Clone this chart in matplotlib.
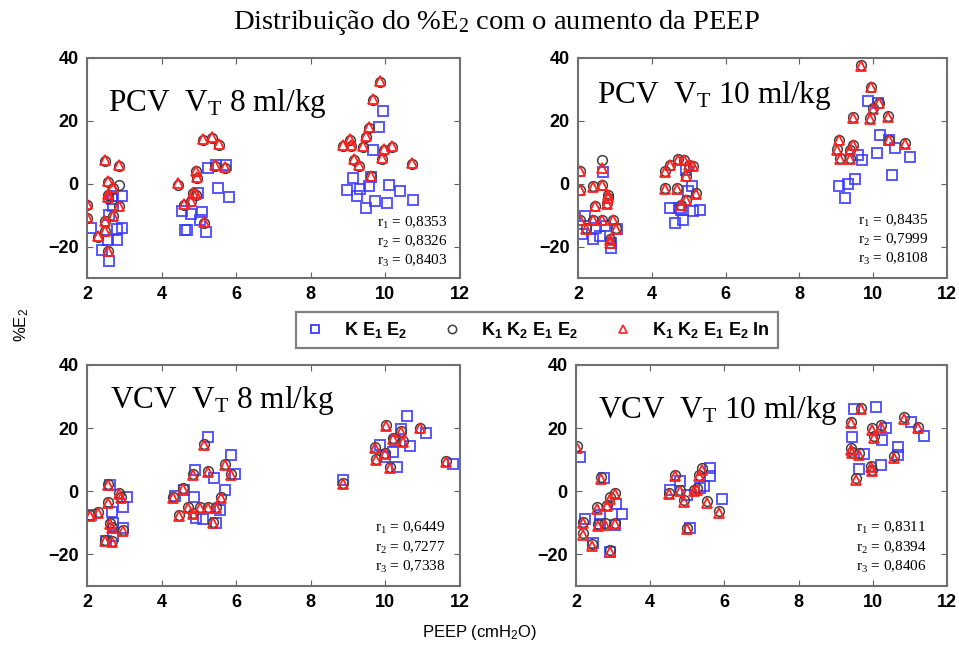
import matplotlib
matplotlib.use("Agg")
import matplotlib.pyplot as plt
from matplotlib.lines import Line2D

# ---------------- data ----------------
x_ticks = [2, 4, 6, 8, 10, 12]
y_ticks = [-20, 0, 20, 40]
series_labels = ['K E$\\mathregular{_1}$ E$\\mathregular{_2}$',
                 'K$\\mathregular{_1}$ K$\\mathregular{_2}$ E$\\mathregular{_1}$ E$\\mathregular{_2}$',
                 'K$\\mathregular{_1}$ K$\\mathregular{_2}$ E$\\mathregular{_1}$ E$\\mathregular{_2}$ In']
panel_titles = ['PCV  V$\\mathregular{_T}$ 8 ml/kg', 'PCV  V$\\mathregular{_T}$ 10 ml/kg',
                'VCV  V$\\mathregular{_T}$ 8 ml/kg', 'VCV  V$\\mathregular{_T}$ 10 ml/kg']
r_values = [['0,8353', '0,8326', '0,8403'],
            ['0,8435', '0,7999', '0,8108'],
            ['0,6449', '0,7277', '0,7338'],
            ['0,8311', '0,8394', '0,8406']]

# PCV 8 ml/kg
pcv8_sq_x = [2.1, 2.6, 2.4, 2.57, 2.8, 2.95, 2.8, 2.93, 2.7, 2.7, 2.6, 2.66,
             4.55, 4.68, 4.8, 4.98, 5.07, 5.03, 5.2, 5.24, 5.46, 5.73, 5.5, 5.8, 4.62,
             9.93, 9.83, 9.67, 9.14, 9.62, 9.55, 8.96, 9.33, 9.25, 10.1, 10.38, 9.72, 10.05, 9.48, 10.75]
pcv8_sq_y = [-14.1, -24.7, -21, -17.8, -17.8, -14, -14.3, -3.8, -7.2, -4, -9.9, -5,
             -8.8, -14.6, -9.5, -3, -9.1, -11.4, -15.4, 4.9, 5.9, 5.9, -1.5, -4.2, -14.6,
             23.2, 17.9, 10.8, 1.8, 2, -0.6, -1.9, -1.7, -3.8, -0.3, -2.4, -5.6, -6, -7.7, -5.3]
pcv8_ci_x = [2.0, 2.0, 2.48, 2.87, 2.57, 2.87, 2.7, 2.57, 2.57, 2.87, 2.7, 2.48, 2.48, 2.3, 2.57,
             4.45, 4.6, 4.78, 4.91, 4.91, 4.94, 4.85, 5.12, 5.34, 5.55, 5.7, 5.44, 5.13,
             9.85, 9.67, 9.55, 9.48, 9.05, 8.87, 9.09, 9.39, 9.97, 10.19, 9.9, 9.17, 9.3, 10.7, 9.62]
pcv8_ci_y = [-6.7, -10.8, 7.1, 5.7, 0.7, -0.3, -1.3, -3.5, -4.5, -7.2, -10.4, -12, -15.1, -16.9, -21.5,
             -0.3, -6.7, -5.6, -3.5, 3.9, 1.8, -3, 14, 14.5, 12.4, 5, 5.6, -12.5,
             32.5, 26.7, 17.7, 14.9, 14, 12, 12, 11.8, 10.8, 11.8, 8, 7.5, 5.6, 6.2, 2.3]
pcv8_tr_x = [2.0, 2.0, 2.48, 2.87, 2.57, 2.7, 2.57, 2.57, 2.87, 2.7, 2.48, 2.48, 2.3, 2.57,
             4.45, 4.6, 4.78, 4.91, 4.91, 4.94, 4.85, 5.12, 5.34, 5.55, 5.7, 5.44, 5.13,
             9.85, 9.67, 9.55, 9.48, 9.05, 8.87, 9.09, 9.39, 9.97, 10.19, 9.9, 9.17, 9.3, 10.7, 9.62]
pcv8_tr_y = [-6.5, -10.6, 7.4, 5.9, 1.0, -1.1, -3.3, -4.3, -7.0, -10.2, -11.8, -14.9, -16.7, -21.3,
             0.1, -6.5, -5.4, -3.3, 4.2, 2.0, -2.8, 14.3, 14.8, 12.6, 5.3, 5.9, -12.3,
             32.8, 27.0, 18.0, 15.2, 14.3, 12.3, 12.3, 12.1, 11.1, 12.1, 8.3, 7.8, 5.9, 6.5, 2.6]

# PCV 10 ml/kg
pcv10_sq_x = [2.68, 2.18, 2.12, 2.41, 2.59, 2.72, 2.9, 2.9, 3.06, 2.5,
              4.49, 4.62, 4.85, 5.08, 4.99, 4.92, 4.8, 5.12, 5.3, 4.75,
              9.87, 10.14, 10.19, 10.42, 10.1, 10.6, 11.0, 9.6, 9.69, 9.51, 9.06, 9.33, 9.24, 10.51]
pcv10_sq_y = [3.6, -10.4, -16, -17.5, -16.7, -13.5, -18.8, -20.4, -14.4, -14,
              -7.7, -12.5, -11.4, -0.8, -2.4, 4.4, -8.3, -8.8, -8.3, -7.7,
              26.3, 25.6, 15.6, 14, 9.7, 11.3, 8.5, 9.2, 7.6, 1.5, -0.6, 0, -4.6, 2.9]
pcv10_ci_x = [2.06, 2.06, 2.41, 2.66, 2.66, 2.45, 2.81, 2.79, 2.81, 2.05, 2.41, 2.66, 2.95, 2.23, 3.04, 2.86, 2.86,
              4.35, 4.35, 4.67, 4.49, 4.71, 4.87, 5.01, 5.12, 4.94, 4.78, 4.94, 5.21,
              9.67, 9.94, 10.17, 10.0, 9.92, 9.45, 10.39, 9.06, 9.45, 9.01, 9.38, 9.1, 9.38, 10.42, 10.87]
pcv10_ci_y = [4.2, -1.9, -0.8, -0.3, 7.6, -7, -3.5, -6.1, -4.5, -11.4, -11.4, -11.4, -11.4, -14.1, -14.1, -17.6, -18.8,
              3.9, -1.4, -1.4, 6, 7.8, 7.6, 6, 5.7, 2.5, -6.7, -5.1, -3,
              37.8, 30.9, 25.8, 24, 20.8, 21.2, 21.4, 14, 12.4, 11, 10.8, 8.1, 8.1, 14, 12.9]
pcv10_tr_x = [2.06, 2.06, 2.41, 2.66, 2.66, 2.45, 2.81, 2.79, 2.81, 2.05, 2.41, 2.66, 2.95, 2.23, 3.04, 2.86, 2.86,
              4.35, 4.35, 4.67, 4.49, 4.71, 4.87, 5.01, 5.12, 4.94, 4.78, 4.94, 5.21,
              9.67, 9.94, 10.17, 10.0, 9.92, 9.45, 10.39, 9.06, 9.45, 9.01, 9.38, 9.1, 9.38, 10.42, 10.87]
pcv10_tr_y = [4.0, -2.1, -1.0, -0.5, 5.0, -7.2, -3.7, -6.3, -4.7, -11.6, -11.6, -11.6, -11.6, -14.3, -14.3, -17.8, -19.0,
              3.7, -1.6, -1.6, 5.8, 7.6, 7.4, 5.8, 5.5, 2.3, -6.9, -5.3, -3.2,
              37.6, 30.7, 25.6, 23.8, 20.6, 21.0, 21.2, 13.8, 12.2, 10.8, 10.6, 7.9, 7.9, 13.8, 12.7]

# VCV 8 ml/kg
vcv8_sq_x = [2.12, 2.63, 3.06, 2.97, 2.66, 2.7, 2.7, 2.52, 2.97,
             5.25, 5.85, 4.89, 5.41, 5.96, 5.69, 4.87, 5.56, 4.93, 5.11, 5.47, 4.35, 4.6,
             8.87, 10.57, 11.1, 10.43, 10.66, 9.85, 10.21, 9.99, 10.32, 11.8, 10.26]
vcv8_sq_y = [-7.5, 1.9, -1.8, -4.9, -6.5, -10.2, -14.3, -15.9, -11.7,
             17.1, 11.5, 6.6, 4.3, 5.5, 0.3, -1.8, -6, -8.6, -8.9, -9.9, -1.6, 0.5,
             3.5, 23.9, 18.6, 19.7, 14.5, 14.8, 12.4, 11, 7.6, 8.5, 16]
vcv8_ci_x = [2.07, 2.3, 2.56, 2.56, 2.86, 2.92, 2.61, 2.66, 2.97, 2.47, 2.66,
             4.31, 4.58, 4.47, 4.84, 4.71, 4.84, 5.02, 5.25, 5.47, 5.13, 5.25, 5.69, 5.87, 5.6, 5.38,
             8.87, 10.01, 9.72, 9.76, 9.99, 10.21, 10.41, 10.46, 10.12, 10.93, 11.62]
vcv8_ci_y = [-7.5, -6.5, 2.4, -3.4, -0.7, -1.8, -10.2, -11.2, -12.3, -15.4, -15.9,
             -1.8, 1, -7.5, 5.5, -4.9, -7, -4.9, -4.9, -4.9, 15, 6.4, 8.7, 5.5, -1.8, -9.8,
             2.6, 21, 13.9, 10.3, 12, 16.9, 19.2, 16, 7.6, 20.2, 9.5]
vcv8_tr_x = [2.07, 2.3, 2.56, 2.56, 2.86, 2.92, 2.61, 2.66, 2.97, 2.47, 2.66,
             4.31, 4.58, 4.47, 4.84, 4.71, 4.84, 5.02, 5.25, 5.47, 5.13, 5.25, 5.69, 5.87, 5.6, 5.38,
             8.87, 10.01, 9.72, 9.76, 9.99, 10.21, 10.41, 10.46, 10.12, 10.93, 11.62]
vcv8_tr_y = [-7.8, -6.8, 2.1, -3.7, -1.0, -2.1, -10.5, -11.5, -12.6, -15.7, -16.2,
             -2.1, 0.7, -7.8, 5.2, -5.2, -7.3, -5.2, -5.2, -5.2, 14.7, 6.1, 8.4, 5.2, -2.1, -10.1,
             2.3, 20.7, 13.6, 10.0, 11.7, 16.6, 18.9, 15.7, 7.3, 19.9, 9.2]

# VCV 10 ml/kg
vcv10_sq_x = [2.11, 2.76, 2.24, 2.47, 2.65, 3.08, 3.23, 3.05, 2.92, 2.65,
              4.54, 4.79, 4.99, 5.35, 5.62, 5.62, 5.94, 5.08, 5.44,
              9.5, 10.08, 9.45, 10.35, 10.26, 11.03, 11.39, 9.75, 9.63, 10.22, 10.67, 10.67]
vcv10_sq_y = [10.8, 4.2, -8.9, -16.3, -7.4, -3.9, -7.1, -10.8, -19.3, -10.5,
              0.5, 3.2, -1.1, 1, 7.4, 4.9, -2.6, -11.6, 1.6,
              26, 26.8, 17.1, 20, 16.1, 21.8, 17.4, 11.9, 7.1, 8.4, 14, 11.6]
vcv10_ci_x = [2.02, 2.67, 2.2, 2.2, 2.42, 2.56, 2.83, 2.92, 3.05, 2.6, 2.78, 3.05, 2.92,
              4.52, 4.68, 4.81, 4.92, 5.17, 5.31, 5.4, 5.26, 5.53, 5.85, 5.0,
              9.41, 9.68, 10.83, 11.21, 10.22, 9.99, 10.04, 9.41, 9.45, 9.63, 10.58, 9.54, 9.96, 9.99]
vcv10_ci_y = [14.4, 4.5, -9.7, -13.2, -16.8, -5.1, -4.2, -1.8, -0.5, -10.5, -10.2, -10, -18.6,
              -0.5, 5.3, 0.5, -2.8, 0.5, 5.3, 7.4, 1, -3.2, -6.3, -11.6,
              22.1, 26.5, 23.5, 20.5, 21, 20, 17.4, 13.7, 12.6, 12.1, 11.1, 4.2, 8.1, 6.8]
vcv10_tr_x = [2.02, 2.67, 2.2, 2.2, 2.42, 2.56, 2.83, 2.92, 3.05, 2.6, 2.78, 3.05, 2.92,
              4.52, 4.68, 4.81, 4.92, 5.17, 5.31, 5.4, 5.26, 5.53, 5.85, 5.0,
              9.41, 9.68, 10.83, 11.21, 10.22, 9.99, 10.04, 9.41, 9.45, 9.63, 10.58, 9.54, 9.96, 9.99]
vcv10_tr_y = [13.8, 3.9, -10.2, -13.7, -17.2, -5.6, -4.7, -2.3, -1.0, -11.0, -10.7, -10.5, -19.1,
              -1.0, 4.8, 0.0, -3.3, 0.0, 4.8, 6.9, 0.5, -3.7, -6.8, -12.0,
              21.6, 26.0, 23.0, 20.0, 20.5, 19.5, 16.9, 13.2, 12.1, 11.6, 10.6, 3.7, 7.6, 6.3]

panels = [
    (pcv8_sq_x, pcv8_sq_y, pcv8_ci_x, pcv8_ci_y, pcv8_tr_x, pcv8_tr_y),
    (pcv10_sq_x, pcv10_sq_y, pcv10_ci_x, pcv10_ci_y, pcv10_tr_x, pcv10_tr_y),
    (vcv8_sq_x, vcv8_sq_y, vcv8_ci_x, vcv8_ci_y, vcv8_tr_x, vcv8_tr_y),
    (vcv10_sq_x, vcv10_sq_y, vcv10_ci_x, vcv10_ci_y, vcv10_tr_x, vcv10_tr_y),
]

# ---------------- layout / style ----------------
W, H = 959, 650
fig = plt.figure(figsize=(W / 100, H / 100), dpi=100)

def box(l, t, r, b):
    return [l / W, 1 - b / H, (r - l) / W, (b - t) / H]

axes_boxes = [box(87, 58, 460, 278), box(578, 58, 947, 278),
              box(87, 365, 460, 586), box(576, 365, 947, 586)]
title_pos = [(0.056, 0.76), (0.051, 0.795), (0.062, 0.805), (0.059, 0.76)]
r_x = [0.777, 0.759, 0.772, 0.755]
r_y = [[0.25, 0.164, 0.077], [0.26, 0.174, 0.087], [0.262, 0.172, 0.086], [0.262, 0.172, 0.086]]

SQ_C = '#3a3aff'
CI_C = '#404040'
TR_C = '#ff2020'
serif = ['Liberation Serif', 'DejaVu Serif']
sans = ['Liberation Sans', 'DejaVu Sans']

for i, (rect, data) in enumerate(zip(axes_boxes, panels)):
    ax = fig.add_axes(rect)
    sx, sy, cx, cy, tx, ty = data
    ax.plot(sx, sy, linestyle='none', marker='s', markersize=7, markerfacecolor='none',
            markeredgecolor=SQ_C, markeredgewidth=1.4, alpha=0.85)
    ax.plot(cx, cy, linestyle='none', marker='o', markersize=7, markerfacecolor='none',
            markeredgecolor=CI_C, markeredgewidth=1.1)
    ax.plot(tx, ty, linestyle='none', marker='^', markersize=6.5, markerfacecolor='none',
            markeredgecolor=TR_C, markeredgewidth=1.3)
    ax.set_xlim(2, 12)
    ax.set_ylim(-30, 40)
    ax.set_xticks(x_ticks)
    ax.set_yticks(y_ticks)
    ax.tick_params(direction='in', top=True, right=True, length=4, width=0.8,
                   color='#606060', labelsize=13, pad=6)
    for lab in ax.get_xticklabels() + ax.get_yticklabels():
        lab.set_fontweight('bold')
        lab.set_family(sans)
    for sp in ax.spines.values():
        sp.set_color('#707070')
        sp.set_linewidth(1.5)
    ax.text(title_pos[i][0], title_pos[i][1], panel_titles[i], transform=ax.transAxes,
            family=serif, fontsize=22.5, va='baseline', ha='left')
    for k in range(3):
        ax.text(r_x[i], r_y[i][k], 'r$\\mathregular{_%d}$ = %s' % (k + 1, r_values[i][k]),
                transform=ax.transAxes, family=serif, fontsize=11, va='center', ha='left')

fig.text(0.518, 0.955, 'Distribuição do %E$\\mathregular{_2}$ com o aumento da PEEP',
         family=serif, fontsize=20.5, ha='center', va='baseline')
fig.text(22 / W, 1 - 325 / H, '%E$\\mathregular{_2}$', rotation=90, family=sans,
         fontsize=12, ha='center', va='center')
fig.text(480 / W, 1 - 632 / H, 'PEEP (cmH$\\mathregular{_2}$O)', family=sans,
         fontsize=12, ha='center', va='center')

handles = [
    Line2D([], [], linestyle='none', marker='s', markersize=6, markerfacecolor='none',
           markeredgecolor=SQ_C, markeredgewidth=1.3),
    Line2D([], [], linestyle='none', marker='o', markersize=6, markerfacecolor='none',
           markeredgecolor=CI_C, markeredgewidth=1.1),
    Line2D([], [], linestyle='none', marker='^', markersize=6, markerfacecolor='none',
           markeredgecolor=TR_C, markeredgewidth=1.2),
]
leg = fig.legend(handles, series_labels, loc='center', bbox_to_anchor=(537 / W, 1 - 330 / H),
                 ncol=3, frameon=True, fancybox=False, shadow=False, handlelength=1.2,
                 handletextpad=1.0, columnspacing=1.9, borderpad=0.45,
                 prop={'family': sans, 'weight': 'bold', 'size': 13})
leg.get_frame().set_edgecolor('#606060')
leg.get_frame().set_linewidth(1.6)

fig.savefig('out.png', dpi=100)
